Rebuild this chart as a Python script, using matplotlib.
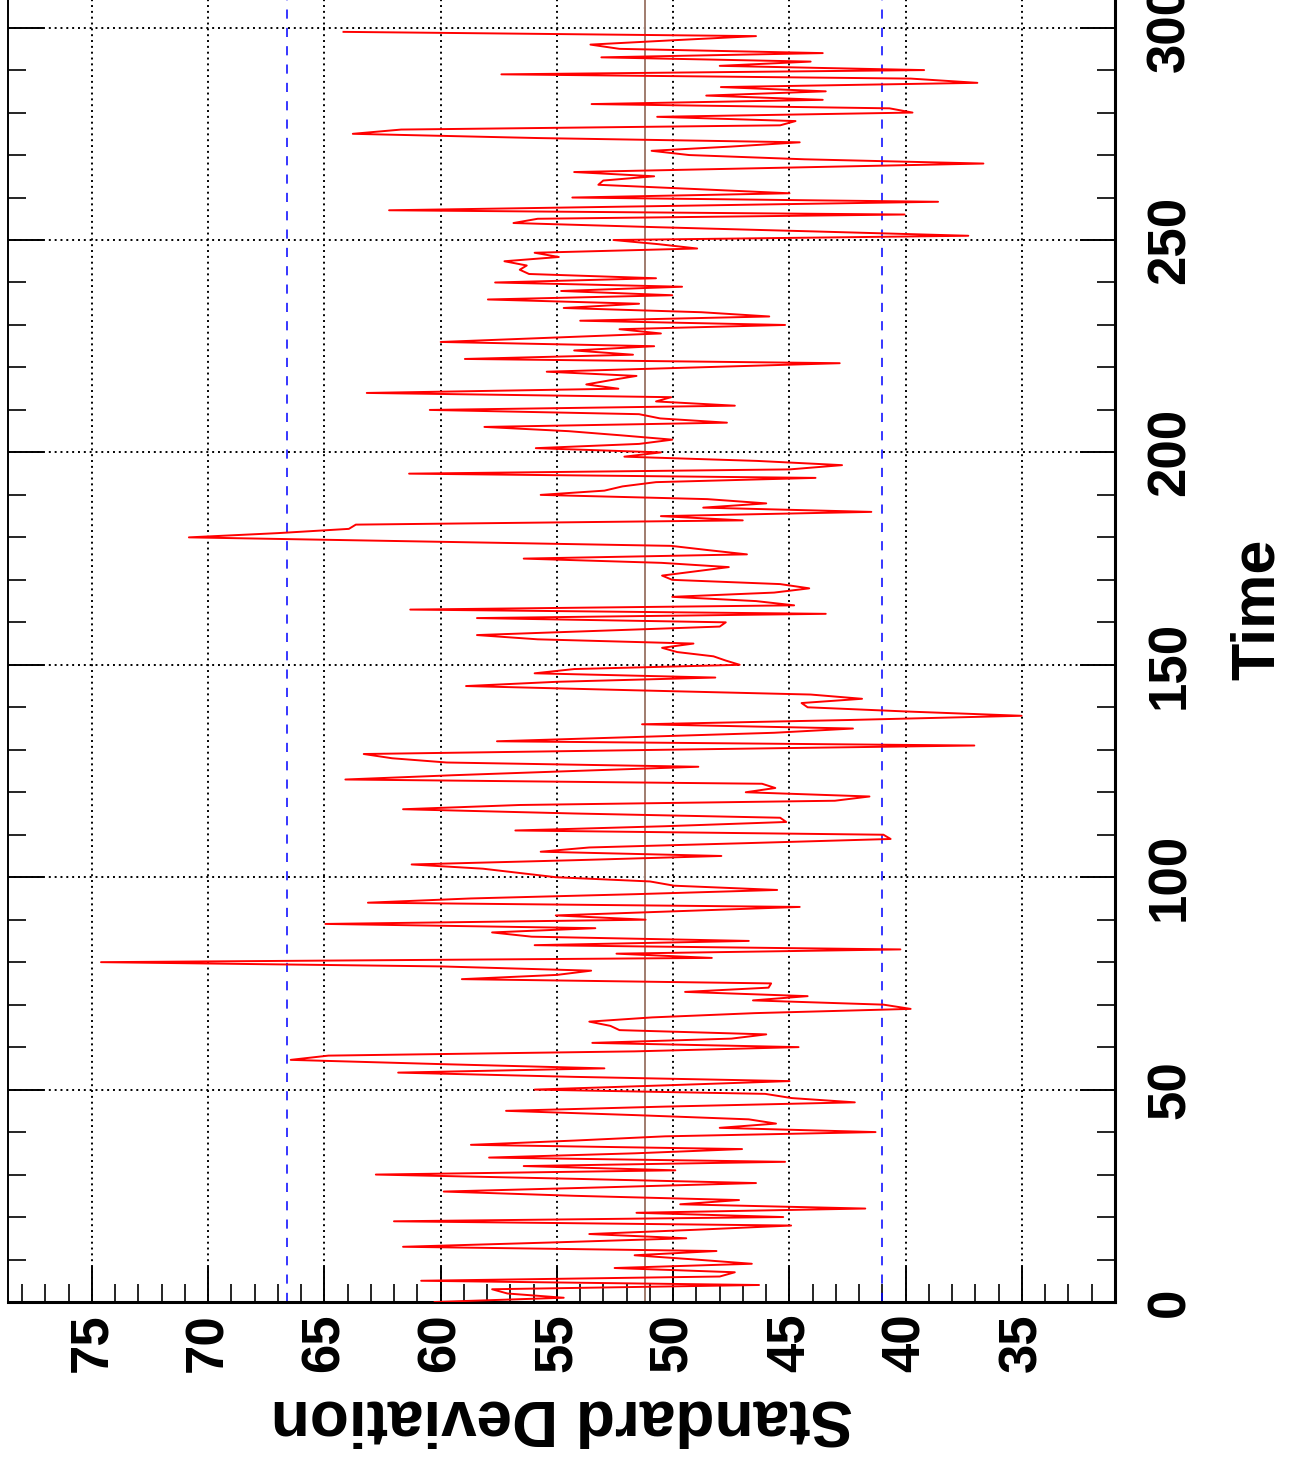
import matplotlib
matplotlib.use('Agg')
import matplotlib.pyplot as plt
from matplotlib.ticker import MultipleLocator
import numpy as np

plt.rcParams['font.family'] = ['Liberation Sans', 'DejaVu Sans']
plt.rcParams['font.weight'] = 'bold'

# time steps 0..299 and the standard deviation read at each step
time = np.arange(300)
sd = [
    60.26, 54.71, 57.13, 57.79, 46.31, 60.84, 48.00, 47.35, 52.52, 46.62,
    49.05, 51.66, 48.14, 61.62, 55.30, 49.44, 53.61, 49.05, 44.93, 62.01,
    45.27, 51.58, 41.74, 49.70, 47.17, 54.26, 59.87, 52.96, 46.44, 54.26,
    62.79, 49.91, 56.43, 45.19, 57.92, 51.66, 47.04, 58.70, 54.26, 50.35,
    41.30, 48.00, 45.58, 46.75, 51.66, 57.19, 50.35, 42.19, 44.90, 46.05,
    55.96, 50.35, 45.00, 54.26, 61.83, 52.96, 60.00, 66.45, 64.83, 51.66,
    44.61, 53.48, 47.50, 46.00, 52.31, 52.70, 53.61, 50.90, 46.50, 39.79,
    40.96, 46.57, 44.22, 49.49, 45.90, 45.79, 59.09, 55.00, 53.53, 60.00,
    74.61, 48.34, 52.44, 40.23, 55.96, 46.75, 56.09, 57.79, 53.35, 64.96,
    51.19, 55.05, 49.80, 44.56, 63.13, 58.70, 51.66, 45.53, 49.96, 51.00,
    55.05, 56.60, 58.18, 61.25, 54.26, 47.93, 55.70, 53.61, 46.96, 40.65,
    40.96, 56.79, 50.35, 45.14, 45.40, 54.26, 61.62, 56.60, 43.05, 41.56,
    46.88, 45.61, 46.18, 64.10, 59.50, 54.30, 48.92, 59.74, 62.09, 63.31,
    50.40, 37.05, 57.58, 51.66, 45.66, 42.27, 51.34, 42.50, 35.02, 39.92,
    44.22, 44.48, 41.88, 44.09, 51.66, 58.91, 55.00, 48.19, 55.96, 54.26,
    47.14, 47.74, 48.27, 49.83, 50.48, 49.13, 55.83, 58.44, 53.20, 48.00,
    47.74, 58.44, 43.44, 61.31, 44.80, 46.44, 50.04, 45.66, 44.15, 45.40,
    50.04, 50.48, 49.05, 47.61, 50.50, 56.43, 46.83, 48.50, 50.09, 60.52,
    70.83, 67.00, 63.95, 63.65, 47.01, 50.53, 41.48, 48.71, 46.00, 48.53,
    55.70, 52.96, 52.18, 50.74, 43.88, 61.36, 45.00, 42.74, 46.40, 52.10,
    50.53, 55.91, 51.47, 50.04, 52.20, 54.50, 58.12, 47.69, 50.56, 51.47,
    60.47, 47.35, 50.74, 50.09, 63.18, 52.36, 53.74, 52.70, 51.58, 55.44,
    49.05, 42.84, 58.96, 51.73, 54.26, 50.82, 60.00, 55.30, 50.53, 52.31,
    45.19, 54.00, 45.87, 48.79, 54.71, 51.47, 57.97, 50.04, 54.82, 49.62,
    57.66, 50.74, 56.20, 56.60, 56.30, 57.26, 54.92, 55.96, 48.97, 50.60,
    52.57, 37.31, 43.80, 50.60, 56.87, 55.83, 40.05, 62.22, 50.35, 38.61,
    54.34, 45.00, 49.05, 53.22, 53.01, 50.82, 54.26, 45.40, 36.66, 44.35,
    49.31, 50.93, 47.50, 44.56, 55.80, 63.78, 61.70, 45.40, 44.74, 50.69,
    39.71, 40.70, 53.51, 43.57, 48.58, 43.44, 47.95, 36.92, 39.79, 57.39,
    39.21, 48.00, 44.09, 53.09, 43.57, 52.31, 53.56, 50.09, 46.44, 64.18,
]
mean_sd = 51.2
limit_hi = 66.6
limit_lo = 41.0

fig = plt.figure(figsize=(12.91, 14.58), dpi=100)
ax = fig.add_axes([8/1291, 156/1458, 1107/1291, 1302/1458])

ax.plot(sd, time, color='red', lw=1.4, zorder=3)
ax.axvline(mean_sd, color='#a07c6e', lw=1.4, zorder=2)
ax.axvline(limit_hi, color='blue', lw=1.1, ls=(0, (6, 6)), zorder=2)
ax.axvline(limit_lo, color='blue', lw=1.1, ls=(0, (6, 6)), zorder=2)

ax.set_xlim(78.61, 31.0)
ax.set_ylim(0, 306.5)

ax.xaxis.set_major_locator(MultipleLocator(5))
ax.xaxis.set_minor_locator(MultipleLocator(1))
ax.yaxis.set_major_locator(MultipleLocator(50))
ax.yaxis.set_minor_locator(MultipleLocator(10))
ax.set_xticks([35, 40, 45, 50, 55, 60, 65, 70, 75])
ax.yaxis.tick_right()

ax.tick_params(which='major', direction='in', length=25, width=1.4, labelsize=38)
ax.tick_params(which='minor', direction='in', length=13, width=1.2)
ax.tick_params(axis='x', which='major', pad=8, labelrotation=90)
ax.tick_params(axis='y', which='major', pad=22, labelrotation=90)
ax.tick_params(axis='y', which='both', left=True, right=True)
ax.tick_params(axis='x', which='both', bottom=True, top=False)
for lab in ax.get_xticklabels() + ax.get_yticklabels():
    lab.set_fontweight('bold')
for lab in ax.get_yticklabels():
    lab.set_verticalalignment('center')

ax.grid(which='major', color='black', ls=(0, (1, 2)), lw=1.4)
ax.set_axisbelow(True)

ax.spines['top'].set_visible(False)
ax.spines['bottom'].set_linewidth(2.2)
ax.spines['right'].set_linewidth(2.2)
ax.spines['left'].set_linewidth(1.4)

fig.text(562/1291, 1 - 1417/1458, 'Standard Deviation', rotation=180,
         ha='center', va='center', fontsize=46, fontweight='bold')
fig.text(1258/1291, 1 - 609/1458, 'Time', rotation=90,
         ha='center', va='center', fontsize=44, fontweight='bold')

fig.savefig('out.png', dpi=100)
